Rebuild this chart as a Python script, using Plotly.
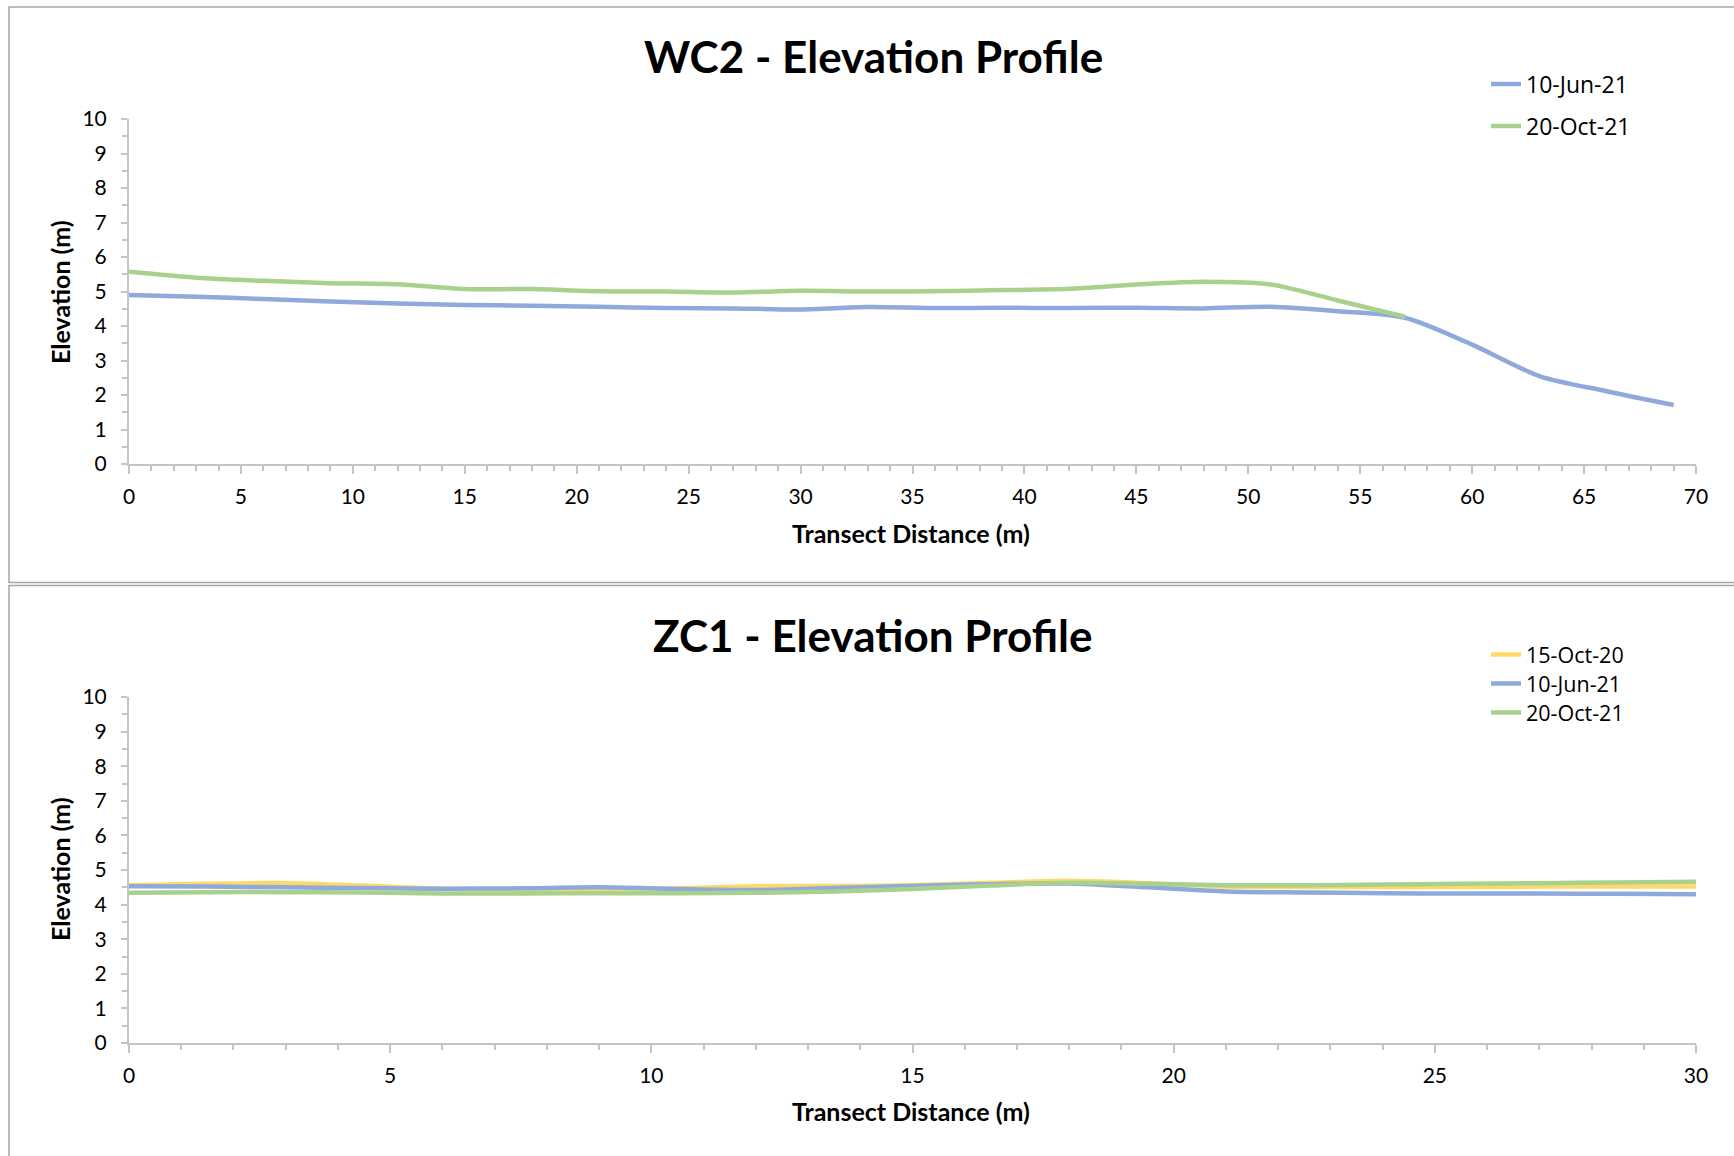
import plotly.graph_objects as go

# ---------------- data ----------------
wc2_x_jun21 = [0, 3, 6, 9, 12, 15, 18, 21, 24, 27, 30, 33, 36, 39, 42, 45, 48, 51, 54, 57, 60, 63, 66, 69]
wc2_y_jun21 = [4.90, 4.85, 4.78, 4.71, 4.65, 4.61, 4.59, 4.56, 4.52, 4.51, 4.48, 4.55, 4.52, 4.53,
               4.52, 4.53, 4.51, 4.56, 4.43, 4.24, 3.46, 2.55, 2.11, 1.71]
wc2_x_oct21 = [0, 3, 6, 9, 12, 15, 18, 21, 24, 27, 30, 33, 36, 39, 42, 45, 48, 51, 54, 57]
wc2_y_oct21 = [5.57, 5.40, 5.31, 5.24, 5.21, 5.07, 5.07, 5.01, 5.00, 4.97, 5.02, 5.00, 5.01, 5.04,
               5.08, 5.20, 5.28, 5.20, 4.74, 4.27]

zc1_x = [0, 1.5, 3, 4.5, 6, 7.5, 9, 10.5, 12, 13.5, 15, 16.5, 18, 19.5, 21, 22.5, 24, 25.5, 27, 28.5, 30]
zc1_y_oct20 = [4.56, 4.60, 4.62, 4.55, 4.46, 4.42, 4.42, 4.47, 4.53, 4.54, 4.56, 4.63, 4.69, 4.62,
               4.52, 4.51, 4.51, 4.51, 4.52, 4.52, 4.52]
zc1_y_jun21 = [4.53, 4.52, 4.50, 4.48, 4.46, 4.47, 4.50, 4.45, 4.42, 4.48, 4.54, 4.59, 4.61, 4.50,
               4.38, 4.35, 4.33, 4.32, 4.32, 4.31, 4.30]
zc1_y_oct21 = [4.34, 4.36, 4.36, 4.35, 4.32, 4.32, 4.33, 4.33, 4.34, 4.38, 4.45, 4.55, 4.63, 4.60,
               4.56, 4.56, 4.58, 4.60, 4.62, 4.64, 4.66]

titles = ["WC2 - Elevation Profile", "ZC1 - Elevation Profile"]
x_title = "Transect Distance (m)"
y_title = "Elevation (m)"

# ---------------- style ----------------
W, H = 1734, 1156
BLUE, GREEN, YELLOW = "#8EA9DB", "#A9D18E", "#FFD966"
AXIS = "#C4C4C4"
FONT = "Lato"
LEGFONT = "Open Sans"
LW = 4.5


def px_x(v):
    return v / W


def px_y(v):
    return 1 - v / H


fig = go.Figure()

def line(x, y, name, color, xa, ya, leg):
    fig.add_trace(go.Scatter(
        x=x, y=y, name=name, mode="lines",
        line=dict(color=color, width=LW, shape="spline", smoothing=0.8),
        xaxis=xa, yaxis=ya, legend=leg,
    ))

line(wc2_x_jun21, wc2_y_jun21, "10-Jun-21", BLUE, "x", "y", "legend")
line(wc2_x_oct21, wc2_y_oct21, "20-Oct-21", GREEN, "x", "y", "legend2")
line(zc1_x, zc1_y_oct20, "15-Oct-20", YELLOW, "x2", "y2", "legend3")
line(zc1_x, zc1_y_jun21, "10-Jun-21", BLUE, "x2", "y2", "legend4")
line(zc1_x, zc1_y_oct21, "20-Oct-21", GREEN, "x2", "y2", "legend5")

xdom = [px_x(129), px_x(1696)]
tickfont = dict(family=FONT, size=21, color="#000000")

def xaxis(rng, anchor):
    return dict(
        domain=xdom, range=rng, anchor=anchor, tick0=0, dtick=5, automargin=False,
        showline=True, linecolor=AXIS, linewidth=2, showgrid=False, zeroline=False,
        ticks="outside", ticklen=8, tickwidth=2, tickcolor=AXIS,
        tickfont=tickfont, ticklabelstandoff=5,
        minor=dict(dtick=1, ticks="outside", ticklen=5, tickwidth=2, tickcolor=AXIS, showgrid=False),
        fixedrange=True,
    )

def yaxis(dom, anchor):
    return dict(
        domain=dom, range=[0, 10], anchor=anchor, tick0=0, dtick=1, automargin=False,
        showline=True, linecolor=AXIS, linewidth=2, showgrid=False, zeroline=False,
        ticks="outside", ticklen=6, tickwidth=2, tickcolor=AXIS,
        tickfont=tickfont, ticklabelstandoff=10,
        minor=dict(dtick=0.5, ticks="outside", ticklen=5, tickwidth=2, tickcolor=AXIS, showgrid=False),
        fixedrange=True,
    )

annotations = []
for i, (ty, xty, yty) in enumerate([(56, 533, 292), (635, 1111, 869)]):
    annotations.append(dict(text="<b>%s</b>" % titles[i], x=px_x(873), y=px_y(ty), xref="paper", yref="paper",
                            xanchor="center", yanchor="middle", showarrow=False,
                            font=dict(family=FONT, size=44, color="#000000")))
    annotations.append(dict(text="<b>%s</b>" % x_title, x=px_x(911), y=px_y(xty), xref="paper", yref="paper",
                            xanchor="center", yanchor="middle", showarrow=False,
                            font=dict(family=FONT, size=25, color="#000000")))
    annotations.append(dict(text="<b>%s</b>" % y_title, x=px_x(60), y=px_y(yty), xref="paper", yref="paper",
                            xanchor="center", yanchor="middle", showarrow=False, textangle=-90,
                            font=dict(family=FONT, size=25, color="#000000")))

shapes = [
    dict(type="rect", xref="paper", yref="paper", x0=px_x(9), x1=1.05, y0=px_y(582.5), y1=px_y(7),
         line=dict(color="#A6A6A6", width=1.5), fillcolor="rgba(0,0,0,0)", layer="below"),
    dict(type="rect", xref="paper", yref="paper", x0=px_x(9), x1=1.05, y0=-0.05, y1=px_y(585.5),
         line=dict(color="#A6A6A6", width=1.5), fillcolor="rgba(0,0,0,0)", layer="below"),
]

LEG_X = px_x(1486)

def leg(ycenter, size):
    return dict(x=LEG_X, y=px_y(ycenter), xanchor="left", yanchor="middle",
                font=dict(family=LEGFONT, size=size, color="#000000"),
                bgcolor="rgba(0,0,0,0)", itemwidth=30)

fig.update_layout(
    width=W, height=H, autosize=False,
    margin=dict(l=0, r=0, t=0, b=0, pad=0, autoexpand=False),
    paper_bgcolor="white", plot_bgcolor="white",
    font=dict(family=FONT, color="#000000"),
    xaxis=xaxis([0, 70], "y"), yaxis=yaxis([px_y(464), px_y(119)], "x"),
    xaxis2=xaxis([0, 30], "y2"), yaxis2=yaxis([px_y(1043), px_y(697)], "x2"),
    legend=leg(84, 23), legend2=leg(126, 23),
    legend3=leg(654.5, 21.5), legend4=leg(683.5, 21.5), legend5=leg(712.5, 21.5),
    annotations=annotations, shapes=shapes,
    showlegend=True, hovermode=False,
)

fig.write_html("out.html")
